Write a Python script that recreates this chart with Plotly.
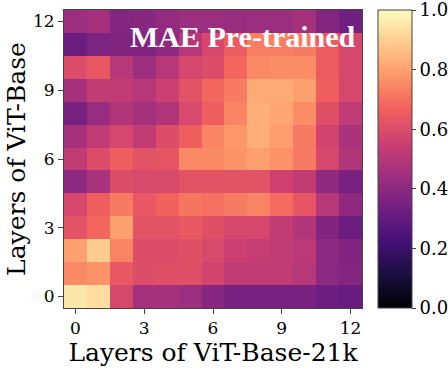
import plotly.graph_objects as go

layers = list(range(13))
tick_vals = [0, 3, 6, 9, 12]
tick_text = ["0", "3", "6", "9", "12"]
cbar_vals = [0.0, 0.2, 0.4, 0.6, 0.8, 1.0]
cbar_text = ["0.0", "0.2", "0.4", "0.6", "0.8", "1.0"]

# rows: layers of ViT-Base (0 at bottom); columns: layers of ViT-Base-21k
row_0 = [0.95, 0.93, 0.58, 0.46, 0.46, 0.44, 0.39, 0.35, 0.35, 0.35, 0.35, 0.32, 0.31]
row_1 = [0.75, 0.77, 0.64, 0.60, 0.61, 0.61, 0.57, 0.53, 0.53, 0.53, 0.50, 0.40, 0.38]
row_2 = [0.80, 0.89, 0.74, 0.60, 0.60, 0.61, 0.59, 0.55, 0.54, 0.53, 0.51, 0.40, 0.37]
row_3 = [0.62, 0.68, 0.80, 0.62, 0.62, 0.64, 0.61, 0.58, 0.58, 0.53, 0.49, 0.37, 0.32]
row_4 = [0.58, 0.66, 0.72, 0.64, 0.67, 0.71, 0.70, 0.72, 0.74, 0.69, 0.63, 0.50, 0.41]
row_5 = [0.40, 0.47, 0.60, 0.59, 0.59, 0.62, 0.62, 0.62, 0.62, 0.56, 0.53, 0.41, 0.35]
row_6 = [0.53, 0.60, 0.66, 0.62, 0.63, 0.75, 0.75, 0.77, 0.80, 0.77, 0.72, 0.58, 0.49]
row_7 = [0.46, 0.53, 0.58, 0.53, 0.60, 0.66, 0.74, 0.78, 0.83, 0.79, 0.72, 0.57, 0.47]
row_8 = [0.35, 0.43, 0.49, 0.46, 0.49, 0.59, 0.66, 0.74, 0.83, 0.81, 0.76, 0.61, 0.52]
row_9 = [0.46, 0.53, 0.53, 0.50, 0.55, 0.62, 0.68, 0.72, 0.82, 0.82, 0.80, 0.66, 0.58]
row_10 = [0.60, 0.64, 0.50, 0.44, 0.50, 0.58, 0.60, 0.68, 0.75, 0.76, 0.76, 0.65, 0.58]
row_11 = [0.32, 0.36, 0.37, 0.37, 0.41, 0.50, 0.58, 0.65, 0.73, 0.73, 0.72, 0.65, 0.58]
row_12 = [0.44, 0.46, 0.38, 0.39, 0.42, 0.44, 0.44, 0.43, 0.44, 0.44, 0.46, 0.38, 0.33]

z = [row_0, row_1, row_2, row_3, row_4, row_5, row_6,
     row_7, row_8, row_9, row_10, row_11, row_12]

serif = "DejaVu Serif"

fig = go.Figure(go.Heatmap(
    z=z, x=layers, y=layers,
    colorscale="Magma", zmin=0, zmax=1,
    colorbar=dict(
        thickness=34, len=1, lenmode="fraction", y=0.5, yanchor="middle",
        x=1.054, xanchor="left", xpad=0, ypad=0,
        outlinewidth=1, outlinecolor="#444",
        tickvals=cbar_vals, ticktext=cbar_text,
        ticks="outside", ticklen=4, tickcolor="#444",
        ticklabeloverflow="allow",
        tickfont=dict(family=serif, size=18, color="black"),
    ),
))

axis_common = dict(
    tickvals=tick_vals, ticktext=tick_text,
    ticks="outside", ticklen=5, tickcolor="#444",
    tickfont=dict(family=serif, size=17, color="black"),
    showline=True, linecolor="#444", linewidth=1, mirror=True,
    showgrid=False, zeroline=False,
    range=[-0.5, 12.5],
)

fig.update_layout(
    width=448, height=368,
    margin=dict(l=64, r=86, t=10, b=60, autoexpand=False),
    paper_bgcolor="white", plot_bgcolor="white",
    xaxis=dict(**axis_common, automargin=False,
               title=dict(text="Layers of ViT-Base-21k",
                          font=dict(family=serif, size=25, color="black"),
                          standoff=2)),
    yaxis=dict(**axis_common, automargin=False,
               title=dict(text="Layers of ViT-Base",
                          font=dict(family=serif, size=25, color="black"),
                          standoff=0)),
    annotations=[dict(
        text="<b>MAE Pre-trained</b>", x=0.985, y=0.912,
        xref="paper", yref="paper", xanchor="right", yanchor="middle",
        showarrow=False,
        font=dict(family="Liberation Serif", size=30, color="white"),
    )],
)

fig.write_html("out.html", config={"displayModeBar": False},
               post_script="document.body.style.margin='0';")
